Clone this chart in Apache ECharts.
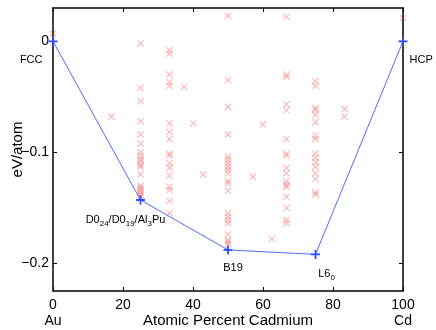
<!DOCTYPE html>
<html>
<head>
<meta charset="utf-8">
<script src="https://cdn.jsdelivr.net/npm/echarts@6/dist/echarts.min.js"></script>
<style>
  html, body { margin: 0; padding: 0; background: #fff; }
  #chart { width: 436px; height: 330px; }
</style>
</head>
<body>
<div id="chart"></div>
<script>
// ground state hull
var hullX = [0, 25, 50, 75, 100];
var hullE = [0, -0.143, -0.188, -0.192, 0];
var hullNames = ['FCC', 'D0{s|24}/D0{s|19}/Al{s|3}Pu', 'B19', 'L6{s|0}', 'HCP'];

// structure energies, grouped by composition (at.% Cd)
var compX = [0, 16.7, 25, 33.3, 37.5, 40, 42.9, 50, 57.1, 60, 62.5, 66.7, 75, 83.3, 100];
var e0 = [0.007];
var e16 = [-0.068];
var e25 = [-0.002, -0.042, -0.054, -0.072, -0.084, -0.092, -0.100, -0.103, -0.106, -0.108, -0.111, -0.113, -0.120, -0.130, -0.132, -0.134, -0.136, -0.138, -0.140];
var e33 = [-0.008, -0.011, -0.030, -0.037, -0.040, -0.074, -0.082, -0.088, -0.101, -0.103, -0.110, -0.114, -0.121, -0.131, -0.134, -0.144, -0.155];
var e37 = [-0.041];
var e40 = [-0.074];
var e43 = [-0.120];
var e50 = [0.023, -0.035, -0.059, -0.084, -0.104, -0.107, -0.110, -0.113, -0.116, -0.119, -0.126, -0.128, -0.135, -0.155, -0.158, -0.161, -0.164, -0.174, -0.179, -0.181, -0.183];
var e57 = [-0.122];
var e60 = [-0.075];
var e62 = [-0.178];
var e67 = [0.022, -0.030, -0.032, -0.057, -0.062, -0.088, -0.101, -0.103, -0.114, -0.119, -0.126, -0.129, -0.131, -0.140, -0.150, -0.161, -0.164];
var e75 = [-0.036, -0.040, -0.060, -0.062, -0.066, -0.073, -0.085, -0.088, -0.101, -0.105, -0.109, -0.113, -0.119, -0.124, -0.136, -0.138];
var e83 = [-0.061, -0.068];
var e100 = [0.021];
var compE = [e0, e16, e25, e33, e37, e40, e43, e50, e57, e60, e62, e67, e75, e83, e100];

var xTicks = [0, 20, 40, 60, 80, 100];
var yTicks = [-0.2, -0.1, 0];

var FONT = '"Liberation Sans", Arial, sans-serif';
var PLUS = 'path://M4,0h2v4h4v2h-4v4h-2v-4h-4v-2h4z';
var CROSS = 'path://M0,1L1,0L5,4L9,0L10,1L6,5L10,9L9,10L5,6L1,10L0,9L4,5Z';

var points = [];
compX.forEach(function (x, i) {
  compE[i].forEach(function (e) { points.push([x, e]); });
});

// label placement around the hull points
var labelPos = [
  { position: 'left', distance: 6, offset: [0, 19] },
  { position: 'bottom', distance: 8, offset: [-15, 0] },
  { position: 'bottom', distance: 8, offset: [5, 0] },
  { position: 'bottom', distance: 8, offset: [11, 0] },
  { position: 'right', distance: 2, offset: [0, 19] }
];
var hullData = hullX.map(function (x, i) {
  return {
    value: [x, hullE[i]],
    label: Object.assign({
      show: true,
      formatter: hullNames[i],
      color: '#000',
      fontFamily: FONT,
      fontSize: 11,
      rich: { s: { fontSize: 8, fontFamily: FONT, padding: [7, 0, 0, 0] } }
    }, labelPos[i])
  };
});

function fmtY(v) {
  if (Math.abs(v) < 1e-9) return '0';
  return (v < 0 ? '\u2212' : '') + Math.abs(v).toFixed(1);
}

var axisLine = { show: true, onZero: false, lineStyle: { color: '#000', width: 1.5 } };
var tick = { inside: true, length: 4, lineStyle: { color: '#000', width: 1 } };

var chart = echarts.init(document.getElementById('chart'));
chart.setOption({
  animation: false,
  grid: { left: 53, right: 33, top: 8, bottom: 39, containLabel: false, outerBoundsMode: 'none' },
  xAxis: [{
    type: 'value', min: 0, max: 100, interval: 20, position: 'bottom',
    splitLine: { show: false },
    axisLine: axisLine, axisTick: tick,
    name: 'Atomic Percent Cadmium', nameLocation: 'middle', nameGap: 22,
    nameMoveOverlap: false,
    nameTextStyle: { fontFamily: FONT, fontSize: 15, color: '#000' },
    axisLabel: {
      margin: 6, fontFamily: FONT, fontSize: 14, color: '#000', lineHeight: 16,
      formatter: function (v) {
        if (v === 0) return '0\nAu';
        if (v === 100) return '100\nCd';
        return '' + v;
      }
    }
  }, {
    type: 'value', min: 0, max: 100, interval: 20, position: 'top',
    splitLine: { show: false }, axisLabel: { show: false },
    axisLine: axisLine, axisTick: tick
  }],
  yAxis: [{
    type: 'value', min: -0.225, max: 0.03, position: 'left',
    splitLine: { show: false },
    axisLine: axisLine,
    axisTick: Object.assign({ customValues: yTicks }, tick),
    name: 'eV/atom', nameLocation: 'middle', nameGap: 28,
    nameMoveOverlap: false,
    nameTextStyle: { fontFamily: FONT, fontSize: 15, color: '#000' },
    axisLabel: {
      customValues: yTicks, margin: 4, fontFamily: FONT, fontSize: 14, color: '#000',
      formatter: fmtY
    }
  }, {
    type: 'value', min: -0.225, max: 0.03, position: 'right',
    splitLine: { show: false },
    axisLine: axisLine,
    axisTick: Object.assign({ customValues: yTicks }, tick),
    axisLabel: { show: false, customValues: yTicks }
  }],
  series: [{
    type: 'scatter',
    data: points,
    symbol: CROSS,
    symbolSize: 7,
    itemStyle: { color: 'rgba(255,0,0,0.4)' },
    z: 2
  }, {
    type: 'line',
    data: hullData,
    symbol: PLUS,
    symbolSize: 9,
    lineStyle: { color: '#4d6bff', width: 1 },
    itemStyle: { color: '#2a4dff' },
    z: 3
  }]
});
</script>
</body>
</html>
